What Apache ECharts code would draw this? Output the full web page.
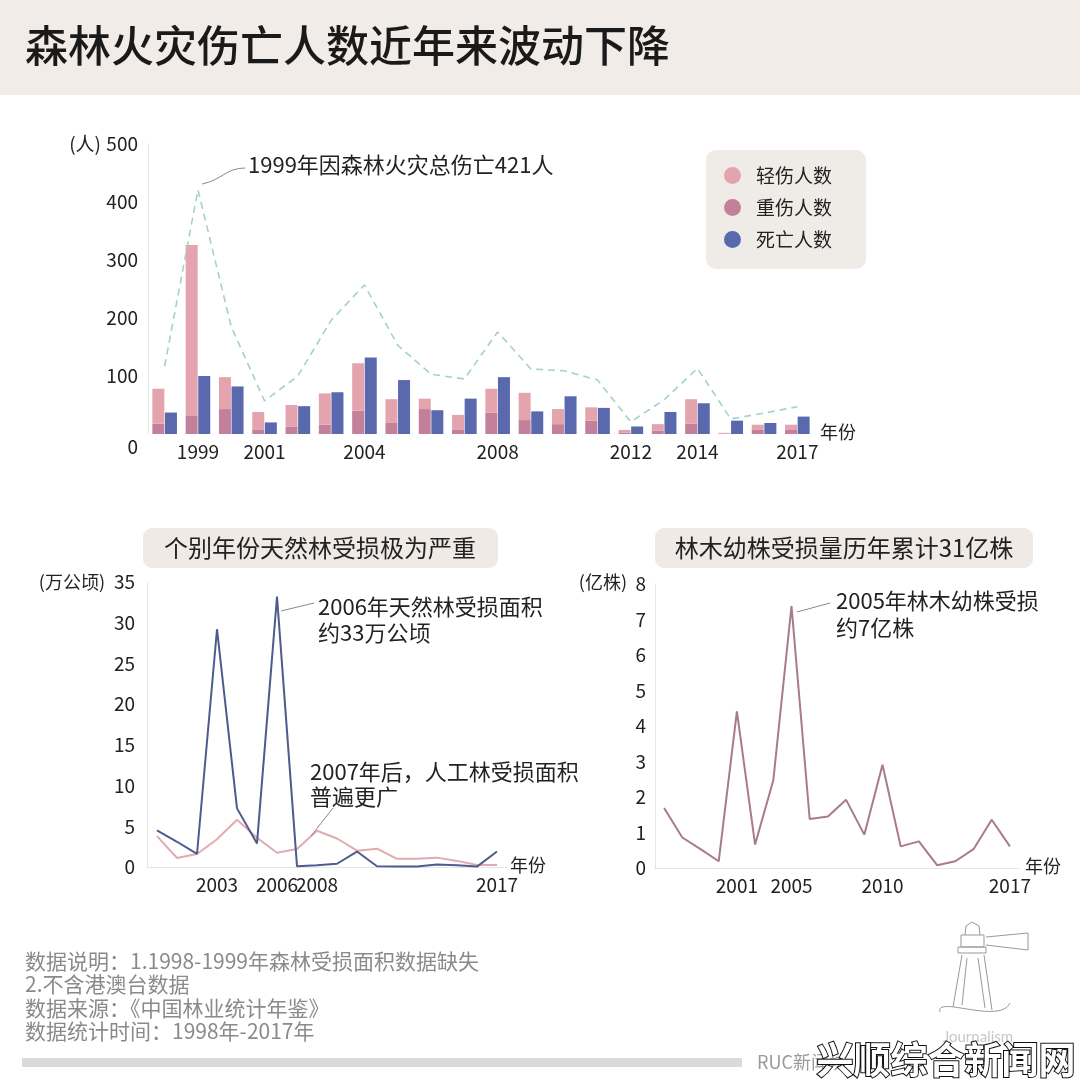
<!DOCTYPE html>
<html>
<head>
<meta charset="utf-8">
<script src="https://cdn.jsdelivr.net/npm/echarts@6/dist/echarts.min.js"></script>
<style>
html,body{margin:0;padding:0;background:#fff;}
#c{width:1080px;height:1090px;}
</style>
</head>
<body>
<div id="c"></div>
<script>
// ---------- DATA ----------
const years = ['1998','1999','2000','2001','2002','2003','2004','2005','2006','2007','2008','2009','2010','2011','2012','2013','2014','2015','2016','2017'];
const topTickLabels = ['','1999','','2001','','','2004','','','','2008','','','','2012','','2014','','','2017'];
const lightInjured   = [60, 295, 55, 30, 37, 54, 82, 40, 18, 25, 41, 47, 26, 23, 5, 11, 42, 1, 8, 8];
const seriousInjured = [18, 31, 43, 8, 13, 16, 40, 20, 43, 8, 37, 24, 17, 23, 2, 6, 18, 1, 8, 8];
const deaths         = [37, 100, 82, 20, 48, 72, 132, 93, 41, 61, 98, 39, 65, 45, 13, 38, 53, 23, 19, 30];
const totalCasualty  = [117, 421, 185, 57, 100, 196, 257, 153, 103, 95, 176, 112, 109, 93, 21, 59, 113, 26, 36, 47];

const areaYears = ['2000','2001','2002','2003','2004','2005','2006','2007','2008','2009','2010','2011','2012','2013','2014','2015','2016','2017'];
const areaTickLabels = ['','','','2003','','','2006','','2008','','','','','','','','','2017'];
const naturalForest = [4.5, 3.1, 1.6, 29.2, 7.2, 2.9, 33.2, 0.1, 0.2, 0.4, 1.9, 0.1, 0.05, 0.05, 0.3, 0.2, 0.05, 1.9];
const plantedForest = [3.8, 1.1, 1.6, 3.4, 5.8, 3.6, 1.75, 2.2, 4.45, 3.5, 2.0, 2.25, 1.0, 1.0, 1.15, 0.75, 0.25, 0.25];

const seedlingTickLabels = ['','','','','2001','','','2005','','','','','2010','','','','','','','2017'];
const seedlingLoss = [1.69, 0.86, 0.53, 0.19, 4.41, 0.66, 2.47, 7.38, 1.38, 1.45, 1.92, 0.94, 2.91, 0.61, 0.75, 0.08, 0.19, 0.53, 1.36, 0.61];

const footNotes = ['数据说明：1.1998-1999年森林受损面积数据缺失','2.不含港澳台数据','数据来源：《中国林业统计年鉴》','数据统计时间：1998年-2017年'];

// ---------- STYLE ----------
const FONT = "'Noto Sans CJK SC','Noto Sans',sans-serif";
const C_LIGHT = '#e3a4ae', C_SERIOUS = '#c4809a', C_DEATH = '#5a69ae', C_TOTAL = '#a5d3c3';
const C_NATURAL = '#4f5b8c', C_PLANTED = '#e2aab1', C_SEED = '#a97a8c';
const AX = '#e6e6e6', TXT = '#222';

function catAxis(idx, data, labels, extra) {
  return Object.assign({
    type: 'category', gridIndex: idx, data: data, boundaryGap: true,
    axisLine: {show: true, lineStyle: {color: AX, width: 1}},
    axisTick: {show: false},
    axisLabel: {interval: 0, color: TXT, fontSize: 19, fontFamily: FONT, margin: 8,
      formatter: (v, i) => labels[i]}
  }, extra || {});
}
function valAxis(idx, max, interval, margin, fmt) {
  return {
    type: 'value', gridIndex: idx, min: 0, max: max, interval: interval,
    splitLine: {show: false},
    axisLine: {show: true, lineStyle: {color: AX, width: 1}},
    axisTick: {show: false},
    axisLabel: {color: TXT, fontSize: 19, fontFamily: FONT, margin: margin, formatter: fmt}
  };
}

const chart = echarts.init(document.getElementById('c'), null, {renderer: 'canvas'});

function txt(x, y, s, size, opts) {
  return {type: 'text', x: x, y: y, z: 50, style: Object.assign({text: s, fontSize: size, fontFamily: FONT, fill: TXT, verticalAlign: 'middle'}, opts || {})};
}
function seg(pts, color) {
  return {type: 'polyline', z: 40, shape: {points: pts}, style: {stroke: color || '#888', lineWidth: 1, fill: null}};
}

const graphics = [
  {type: 'rect', z: 0, shape: {x: 0, y: 0, width: 1080, height: 95}, style: {fill: '#f1ece8'}},
  txt(25, 46, '森林火灾伤亡人数近年来波动下降', 43, {fontWeight: 500, fill: '#1a1a1a'}),
  txt(101, 144, '(人)', 19, {align: 'right'}),
  txt(138, 447, '0', 19, {align: 'right'}),
  txt(820, 432, '年份', 18),
  txt(248, 165, '1999年因森林火灾总伤亡421人', 22),
  {type: 'bezierCurve', z: 40, shape: {x1: 202, y1: 184, x2: 245, y2: 168, cpx1: 222, cpy1: 180, cpx2: 226, cpy2: 168}, style: {stroke: '#888', lineWidth: 1, fill: null}},

  {type: 'rect', z: 1, shape: {x: 143, y: 528, width: 355, height: 40, r: 9}, style: {fill: '#efeae6'}},
  txt(320, 548, '个别年份天然林受损极为严重', 24, {align: 'center'}),
  {type: 'rect', z: 1, shape: {x: 655, y: 528, width: 378, height: 40, r: 9}, style: {fill: '#efeae6'}},
  txt(844, 548, '林木幼株受损量历年累计31亿株', 24, {align: 'center'}),

  txt(105, 582, '(万公顷)', 18, {align: 'right'}),
  txt(510, 865, '年份', 18),
  txt(318, 607, '2006年天然林受损面积', 22),
  txt(318, 633, '约33万公顷', 22),
  seg([[281, 611], [314, 603]]),
  txt(310, 772, '2007年后，人工林受损面积', 22),
  txt(310, 797, '普遍更广', 22),
  seg([[311, 836], [333, 808]]),

  txt(627, 582, '(亿株)', 18, {align: 'right'}),
  txt(1025, 866, '年份', 18),
  txt(836, 601, '2005年林木幼株受损', 22),
  txt(836, 628, '约7亿株', 22),
  seg([[797, 612], [830, 603]]),

  txt(25, 961, footNotes[0], 21, {fill: '#8a8a8a'}),
  txt(25, 984, footNotes[1], 21, {fill: '#8a8a8a'}),
  txt(25, 1008, footNotes[2], 21, {fill: '#8a8a8a'}),
  txt(25, 1031, footNotes[3], 21, {fill: '#8a8a8a'}),
  {type: 'rect', z: 1, shape: {x: 22, y: 1058, width: 720, height: 9}, style: {fill: '#dadada'}},
  txt(757, 1062, 'RUC新闻坊', 18, {fill: '#9a9a9a'}),

  // lighthouse logo (outline)
  seg([[965, 935], [966, 926], [972, 922], [979, 926], [980, 935]], '#999'),
  seg([[958, 947], [986, 947], [986, 953], [958, 953], [958, 947]], '#999'),
  seg([[961, 935], [984, 935], [984, 947], [961, 947], [961, 935]], '#999'),
  seg([[986, 937], [1028, 933], [1028, 950], [986, 945]], '#999'),
  seg([[962, 955], [953, 1007]], '#999'),
  seg([[984, 955], [992, 1010]], '#999'),
  seg([[967, 958], [962, 1005]], '#999'),
  seg([[978, 958], [985, 1008]], '#999'),
  {type: 'bezierCurve', z: 40, shape: {x1: 940, y1: 1012, x2: 1010, y2: 1003, cpx1: 935, cpy1: 995, cpx2: 1000, cpy2: 1025}, style: {stroke: '#999', lineWidth: 1, fill: null}},
  txt(978, 1037, 'Journalism', 15, {align: 'center', fill: '#c8c8c8', fontFamily: "'Lato',sans-serif"}),
  txt(946, 1060, '兴顺综合新闻网', 37, {align: 'center', fontWeight: 'bold', fill: '#ffffff', stroke: '#111', lineWidth: 2})
];

const option = {
  animation: false,
  backgroundColor: '#ffffff',
  textStyle: {fontFamily: FONT},
  legend: {
    left: 706, top: 150, orient: 'vertical',
    data: ['轻伤人数', '重伤人数', '死亡人数'],
    icon: 'circle', itemWidth: 17, itemHeight: 17, itemGap: 13,
    padding: [16, 34, 20, 18],
    backgroundColor: '#efebe7', borderRadius: 10,
    textStyle: {fontSize: 19, color: TXT, fontFamily: FONT, padding: [0, 0, 0, 10]}
  },
  grid: [
    {left: 148, top: 144, width: 666, height: 290},
    {left: 147, top: 582, width: 360, height: 285},
    {left: 655, top: 584, width: 364, height: 284}
  ],
  xAxis: [
    catAxis(0, years, topTickLabels, {axisLine: {show: false}}),
    catAxis(1, areaYears, areaTickLabels),
    catAxis(2, years, seedlingTickLabels)
  ],
  yAxis: [
    valAxis(0, 500, 100, 10, v => (v === 0 ? '' : String(v))),
    valAxis(1, 35, 5, 12),
    valAxis(2, 8, 1, 9)
  ],
  series: [
    {name: '重伤人数', type: 'bar', stack: 'inj', xAxisIndex: 0, yAxisIndex: 0, data: seriousInjured, barWidth: 12, barGap: '5%', itemStyle: {color: C_SERIOUS}},
    {name: '轻伤人数', type: 'bar', stack: 'inj', xAxisIndex: 0, yAxisIndex: 0, data: lightInjured, barWidth: 12, barGap: '5%', itemStyle: {color: C_LIGHT}},
    {name: '死亡人数', type: 'bar', xAxisIndex: 0, yAxisIndex: 0, data: deaths, barWidth: 12, barGap: '5%', itemStyle: {color: C_DEATH}},
    {name: '总伤亡', type: 'line', xAxisIndex: 0, yAxisIndex: 0, data: totalCasualty, symbol: 'none', z: 5,
      lineStyle: {color: C_TOTAL, width: 1.6, type: [7, 5]}},
    {name: '人工林', type: 'line', xAxisIndex: 1, yAxisIndex: 1, data: plantedForest, symbol: 'none',
      lineStyle: {color: C_PLANTED, width: 2}},
    {name: '天然林', type: 'line', xAxisIndex: 1, yAxisIndex: 1, data: naturalForest, symbol: 'none',
      lineStyle: {color: C_NATURAL, width: 2}},
    {name: '林木幼株', type: 'line', xAxisIndex: 2, yAxisIndex: 2, data: seedlingLoss, symbol: 'none',
      lineStyle: {color: C_SEED, width: 2}}
  ],
  graphic: graphics
};
chart.setOption(option);
</script>
</body>
</html>
